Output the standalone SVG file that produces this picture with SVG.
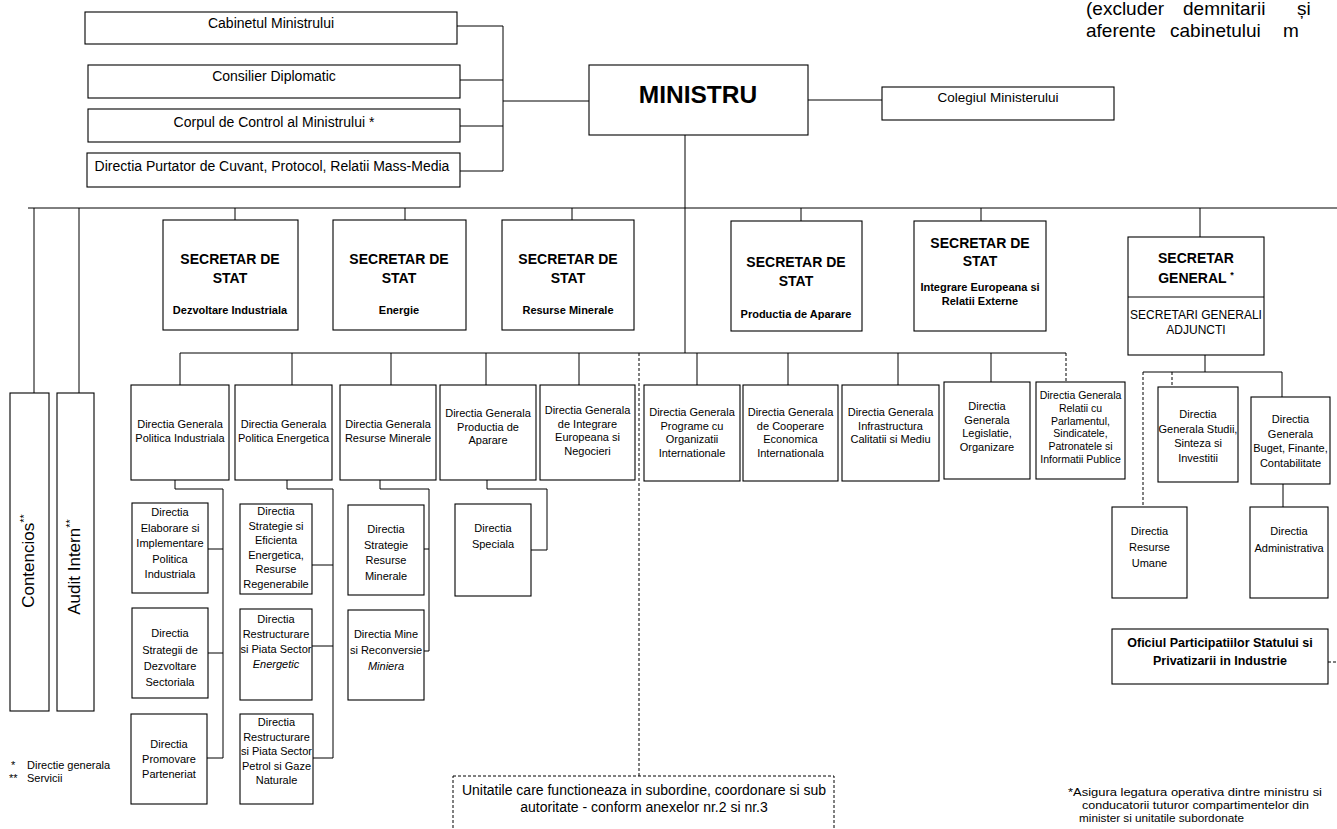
<svg xmlns="http://www.w3.org/2000/svg" width="1337" height="829" viewBox="0 0 1337 829">
<style>
.bg{fill:#fff}
.b{fill:#fff;stroke:#000;stroke-width:1.1}
.bd{fill:none;stroke:#000;stroke-width:1;stroke-dasharray:3,2}
.c{fill:none;stroke:#000;stroke-width:1}
.cd{fill:none;stroke:#000;stroke-width:1;stroke-dasharray:3,2}
text{font-family:"Liberation Sans",Arial,sans-serif;fill:#000}
.t{font-size:11px;text-anchor:middle}
.tj{font-size:10.5px;text-anchor:middle}
.tt{font-size:14px;text-anchor:middle}
.ss{font-size:14px;font-weight:bold;text-anchor:middle}
.sub{font-size:11px;font-weight:bold;text-anchor:middle}
.it{font-style:italic}
.fn{font-size:11px}
.nt{font-size:19px}
</style>
<rect class="bg" x="0" y="0" width="1337" height="829"/>

<g id="note-top">
<text class="nt" y="15"><tspan x="1086">(excluder</tspan><tspan x="1183">demnitarii</tspan><tspan x="1297">și</tspan></text>
<text class="nt" y="37"><tspan x="1086">aferente</tspan><tspan x="1170">cabinetului</tspan><tspan x="1283">m</tspan></text>
</g>

<g id="connectors">
<path class="c" d="M457,26H503M460,80H503M460,126H503M460,171H503M503,26V171M503,101H589"/>
<path class="c" d="M808,100H882"/>
<path class="c" d="M685,135V353"/>
<path class="c" d="M28,208H1337"/>
<path class="c" d="M34,208V393M79,208V393"/>
<path class="c" d="M235,208V220M405,208V220M572,208V220M801,208V221M981,208V221M1200,208V237"/>
<path class="c" d="M180,353H1066"/>
<path class="c" d="M180,353V385M292,353V385M391,353V385M486,353V385M579,353V385M697,353V385M788,353V385M898,353V385M991,353V382"/>
<path class="cd" d="M1066,353V382"/>
<path class="cd" d="M639,353V776"/>
<path class="c" d="M175,480V489H223V758M208,549H223M208,653H223M207,758H223"/>
<path class="c" d="M287,480V489H333V758M312,565H333M312,646H333M313,758H333"/>
<path class="c" d="M380,480V489H429V651M424,549H429M424,651H429"/>
<path class="c" d="M487,480V489H547V550H531"/>
<path class="c" d="M1205,355V372M1143,372H1282M1282,372V397"/>
<path class="cd" d="M1143,372V507M1172,372V387"/>
<path class="c" d="M1283,484V507"/>
<path class="cd" d="M1328,662H1337"/>
</g>

<g id="cabinet">
<rect class="b" x="85" y="12" width="372" height="32"/>
<text class="tt" x="271" y="28">Cabinetul Ministrului</text>
</g>
<g id="consilier">
<rect class="b" x="88" y="65" width="372" height="33"/>
<text class="tt" x="274" y="81">Consilier Diplomatic</text>
</g>
<g id="corpul">
<rect class="b" x="88" y="109" width="372" height="33"/>
<text class="tt" x="274" y="127">Corpul de Control al Ministrului *</text>
</g>
<g id="purtator">
<rect class="b" x="87" y="153" width="373" height="34"/>
<text class="tt" x="272" y="171">Directia Purtator de Cuvant, Protocol, Relatii Mass-Media</text>
</g>

<g id="ministru">
<rect class="b" x="589" y="65" width="219" height="70"/>
<text x="698" y="103" font-size="24.5" font-weight="bold" text-anchor="middle">MINISTRU</text>
</g>
<g id="colegiul">
<rect class="b" x="882" y="87" width="232" height="33"/>
<text x="998" y="102" font-size="13.5" text-anchor="middle">Colegiul Ministerului</text>
</g>

<g id="contencios">
<rect class="b" x="10" y="393" width="39" height="318"/>
<text transform="translate(34,561) rotate(-90)" font-size="17" text-anchor="middle">Contencios<tspan font-size="11" dy="-6">**</tspan></text>
</g>
<g id="audit">
<rect class="b" x="57" y="393" width="37" height="318"/>
<text transform="translate(80,567) rotate(-90)" font-size="17" text-anchor="middle">Audit Intern<tspan font-size="11" dy="-6">**</tspan></text>
</g>

<g id="ss-industrie">
<rect class="b" x="163" y="220" width="135" height="110"/>
<text class="ss" x="230" y="264">SECRETAR DE</text>
<text class="ss" x="230" y="283">STAT</text>
<text class="sub" x="230" y="314">Dezvoltare Industriala</text>
</g>
<g id="ss-energie">
<rect class="b" x="333" y="220" width="133" height="110"/>
<text class="ss" x="399" y="264">SECRETAR DE</text>
<text class="ss" x="399" y="283">STAT</text>
<text class="sub" x="399" y="314">Energie</text>
</g>
<g id="ss-resurse">
<rect class="b" x="502" y="220" width="132" height="110"/>
<text class="ss" x="568" y="264">SECRETAR DE</text>
<text class="ss" x="568" y="283">STAT</text>
<text class="sub" x="568" y="314">Resurse Minerale</text>
</g>
<g id="ss-aparare">
<rect class="b" x="731" y="221" width="131" height="110"/>
<text class="ss" x="796" y="267">SECRETAR DE</text>
<text class="ss" x="796" y="286">STAT</text>
<text class="sub" x="796" y="318">Productia de Aparare</text>
</g>
<g id="ss-integrare">
<rect class="b" x="914" y="221" width="132" height="110"/>
<text class="ss" x="980" y="248">SECRETAR DE</text>
<text class="ss" x="980" y="266">STAT</text>
<text class="sub" x="980" y="291">Integrare Europeana si</text>
<text class="sub" x="980" y="305">Relatii Externe</text>
</g>
<g id="secretar-general">
<rect class="b" x="1128" y="237" width="136" height="118"/>
<line class="c" x1="1128" y1="297" x2="1264" y2="297"/>
<text class="ss" x="1196" y="263">SECRETAR</text>
<text class="ss" x="1196" y="283">GENERAL <tspan font-size="9" dy="-5">*</tspan></text>
<text x="1196" y="319" font-size="12" text-anchor="middle">SECRETARI GENERALI</text>
<text x="1196" y="334" font-size="12" text-anchor="middle">ADJUNCTI</text>
</g>

<g id="dg-politica-industriala">
<rect class="b" x="131" y="385" width="98" height="95"/>
<text class="t" x="180" y="428">Directia Generala</text>
<text class="t" x="180" y="442">Politica Industriala</text>
</g>
<g id="dg-politica-energetica">
<rect class="b" x="235" y="385" width="97" height="95"/>
<text class="t" x="283.5" y="428">Directia Generala</text>
<text class="t" x="283.5" y="442">Politica Energetica</text>
</g>
<g id="dg-resurse-minerale">
<rect class="b" x="340" y="385" width="96" height="95"/>
<text class="t" x="388" y="428">Directia Generala</text>
<text class="t" x="388" y="442">Resurse Minerale</text>
</g>
<g id="dg-productia">
<rect class="b" x="440" y="385" width="96" height="95"/>
<text class="t" x="488" y="417">Directia Generala</text>
<text class="t" x="488" y="430.5">Productia de</text>
<text class="t" x="488" y="444">Aparare</text>
</g>
<g id="dg-integrare">
<rect class="b" x="540" y="385" width="95" height="95"/>
<text class="t" x="587.5" y="414">Directia Generala</text>
<text class="t" x="587.5" y="427.5">de Integrare</text>
<text class="t" x="587.5" y="441">Europeana si</text>
<text class="t" x="587.5" y="454.5">Negocieri</text>
</g>
<g id="dg-programe">
<rect class="b" x="644" y="385" width="96" height="96"/>
<text class="t" x="692" y="416">Directia Generala</text>
<text class="t" x="692" y="429.5">Programe cu</text>
<text class="t" x="692" y="443">Organizatii</text>
<text class="t" x="692" y="456.5">Internationale</text>
</g>
<g id="dg-cooperare">
<rect class="b" x="743" y="385" width="95" height="96"/>
<text class="t" x="790.5" y="416">Directia Generala</text>
<text class="t" x="790.5" y="429.5">de Cooperare</text>
<text class="t" x="790.5" y="443">Economica</text>
<text class="t" x="790.5" y="456.5">Internationala</text>
</g>
<g id="dg-infrastructura">
<rect class="b" x="842" y="385" width="97" height="96"/>
<text class="t" x="890.5" y="416">Directia Generala</text>
<text class="t" x="890.5" y="429.5">Infrastructura</text>
<text class="t" x="890.5" y="443">Calitatii si Mediu</text>
</g>
<g id="dg-legislatie">
<rect class="b" x="944" y="382" width="86" height="97"/>
<text class="t" x="987" y="410">Directia</text>
<text class="t" x="987" y="423.5">Generala</text>
<text class="t" x="987" y="437">Legislatie,</text>
<text class="t" x="987" y="450.5">Organizare</text>
</g>
<g id="dg-relatii">
<rect class="b" x="1036" y="382" width="89" height="97"/>
<text class="tj" x="1080.5" y="399">Directia Generala</text>
<text class="tj" x="1080.5" y="411.8">Relatii cu</text>
<text class="tj" x="1080.5" y="424.6">Parlamentul,</text>
<text class="tj" x="1080.5" y="437.4">Sindicatele,</text>
<text class="tj" x="1080.5" y="450.2">Patronatele si</text>
<text class="tj" x="1080.5" y="463">Informatii Publice</text>
</g>

<g id="d-elaborare">
<rect class="b" x="132" y="503" width="76" height="90"/>
<text class="t" x="170" y="516">Directia</text>
<text class="t" x="170" y="531.5">Elaborare si</text>
<text class="t" x="170" y="547">Implementare</text>
<text class="t" x="170" y="562.5">Politica</text>
<text class="t" x="170" y="578">Industriala</text>
</g>
<g id="d-strategii">
<rect class="b" x="132" y="608" width="76" height="90"/>
<text class="t" x="170" y="637">Directia</text>
<text class="t" x="170" y="653.5">Strategii de</text>
<text class="t" x="170" y="670">Dezvoltare</text>
<text class="t" x="170" y="686">Sectoriala</text>
</g>
<g id="d-promovare">
<rect class="b" x="131" y="714" width="76" height="90"/>
<text class="t" x="169" y="748">Directia</text>
<text class="t" x="169" y="763">Promovare</text>
<text class="t" x="169" y="778">Parteneriat</text>
</g>
<g id="d-strategie-eficienta">
<rect class="b" x="240" y="504" width="72" height="90"/>
<text class="t" x="276" y="515">Directia</text>
<text class="t" x="276" y="529.5">Strategie  si</text>
<text class="t" x="276" y="544">Eficienta</text>
<text class="t" x="276" y="558.5">Energetica,</text>
<text class="t" x="276" y="573">Resurse</text>
<text class="t" x="276" y="587.5">Regenerabile</text>
</g>
<g id="d-restructurare-energetic">
<rect class="b" x="240" y="609" width="72" height="91"/>
<text class="t" x="276" y="623">Directia</text>
<text class="t" x="276" y="638">Restructurare</text>
<text class="t" x="276" y="653">si Piata Sector</text>
<text class="t it" x="276" y="668">Energetic</text>
</g>
<g id="d-restructurare-petrol">
<rect class="b" x="240" y="714" width="73" height="90"/>
<text class="t" x="276.5" y="726">Directia</text>
<text class="t" x="276.5" y="740.5">Restructurare</text>
<text class="t" x="276.5" y="755">si Piata Sector</text>
<text class="t" x="276.5" y="769.5">Petrol si Gaze</text>
<text class="t" x="276.5" y="784">Naturale</text>
</g>
<g id="d-strategie-resurse">
<rect class="b" x="348" y="505" width="76" height="90"/>
<text class="t" x="386" y="533">Directia</text>
<text class="t" x="386" y="548.5">Strategie</text>
<text class="t" x="386" y="564">Resurse</text>
<text class="t" x="386" y="579.5">Minerale</text>
</g>
<g id="d-mine">
<rect class="b" x="348" y="610" width="76" height="90"/>
<text class="t" x="386" y="638">Directia Mine</text>
<text class="t" x="386" y="654">si Reconversie</text>
<text class="t it" x="386" y="670">Miniera</text>
</g>
<g id="d-speciala">
<rect class="b" x="455" y="504" width="76" height="92"/>
<text class="t" x="493" y="532">Directia</text>
<text class="t" x="493" y="548">Speciala</text>
</g>

<g id="dg-studii">
<rect class="b" x="1158" y="387" width="80" height="95"/>
<text class="t" x="1198" y="418">Directia</text>
<text class="t" x="1198" y="432.5" font-size="10.5">Generala Studii,</text>
<text class="t" x="1198" y="447">Sinteza si</text>
<text class="t" x="1198" y="461.5">Investitii</text>
</g>
<g id="dg-buget">
<rect class="b" x="1251" y="397" width="79" height="87"/>
<text class="t" x="1290.5" y="423">Directia</text>
<text class="t" x="1290.5" y="437.5">Generala</text>
<text class="t" x="1290.5" y="452">Buget, Finante,</text>
<text class="t" x="1290.5" y="466.5">Contabilitate</text>
</g>
<g id="d-resurse-umane">
<rect class="b" x="1112" y="507" width="75" height="91"/>
<text class="t" x="1149.5" y="535">Directia</text>
<text class="t" x="1149.5" y="551">Resurse</text>
<text class="t" x="1149.5" y="567">Umane</text>
</g>
<g id="d-administrativa">
<rect class="b" x="1250" y="507" width="78" height="91"/>
<text class="t" x="1289" y="535">Directia</text>
<text class="t" x="1289" y="552">Administrativa</text>
</g>
<g id="oficiul">
<rect class="b" x="1112" y="629" width="216" height="55"/>
<text x="1220" y="647" font-size="12.5" font-weight="bold" text-anchor="middle">Oficiul Participatiilor Statului si</text>
<text x="1220" y="665" font-size="12.5" font-weight="bold" text-anchor="middle">Privatizarii in Industrie</text>
</g>

<g id="unitatile">
<rect class="bd" x="453" y="776" width="381" height="70"/>
<text x="644" y="795" font-size="14" text-anchor="middle">Unitatile care functioneaza in subordine, coordonare si sub</text>
<text x="644" y="812" font-size="14" text-anchor="middle">autoritate - conform anexelor nr.2 si nr.3</text>
</g>

<g id="legend">
<text class="fn" x="11" y="769">*</text>
<text class="fn" x="27" y="769">Directie generala</text>
<text class="fn" x="9" y="782">**</text>
<text class="fn" x="27" y="782">Servicii</text>
</g>
<g id="note-sg">
<text class="fn" x="1068" y="796" textLength="254" lengthAdjust="spacingAndGlyphs">*Asigura legatura operativa dintre ministru si</text>
<text class="fn" x="1082" y="809" textLength="227" lengthAdjust="spacingAndGlyphs">conducatorii tuturor compartimentelor din</text>
<text class="fn" x="1079" y="822" textLength="165" lengthAdjust="spacingAndGlyphs">minister si unitatile subordonate</text>
</g>
</svg>
